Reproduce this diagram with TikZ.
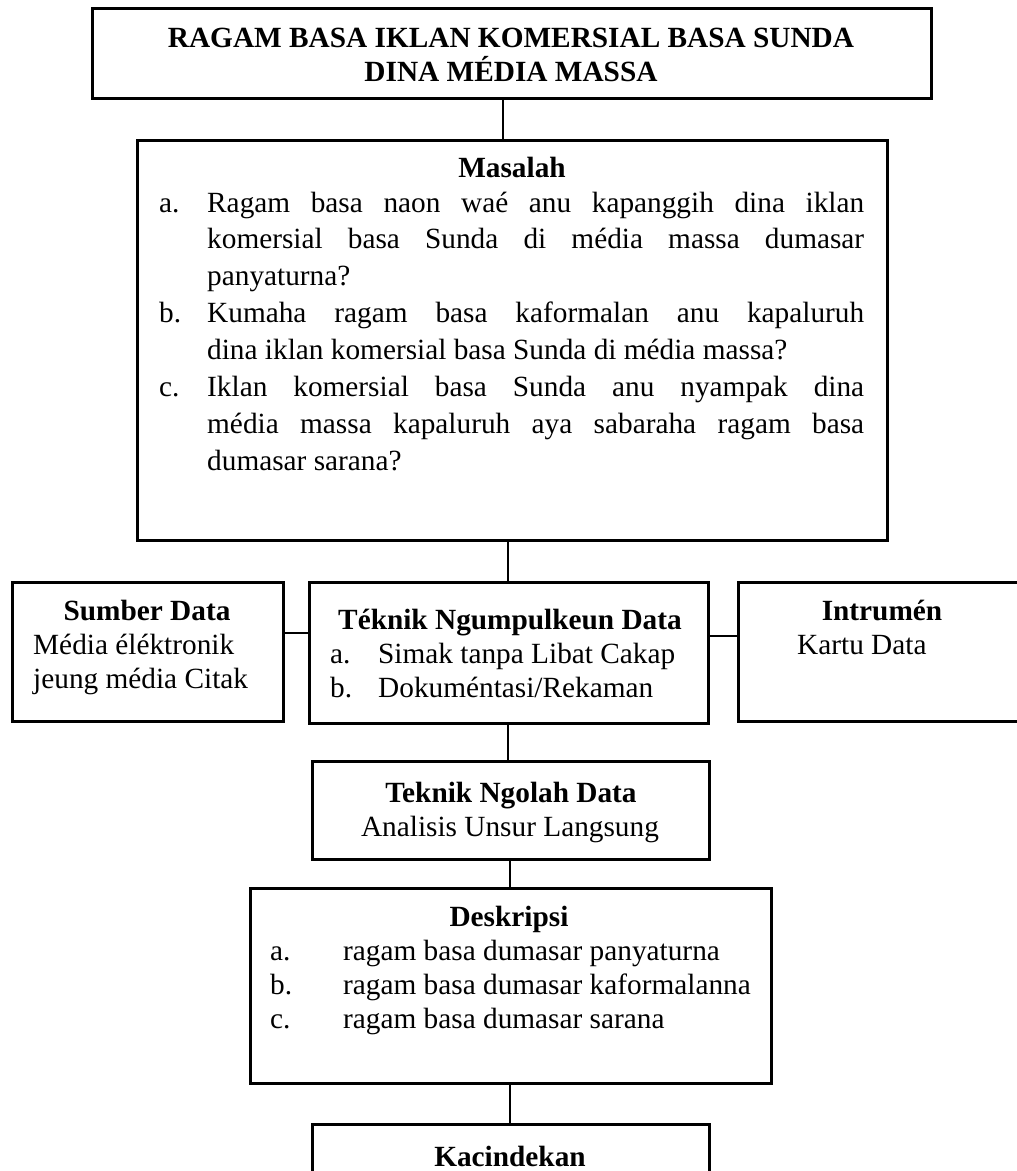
\documentclass[tikz,border=0pt]{standalone}
\usepackage{fontspec}
\setmainfont{Liberation Serif}
\newcommand\myfs{\fontsize{29.3pt}{34pt}\selectfont}
\begin{document}
\begin{tikzpicture}[x=1pt,y=-1pt,
  box/.style={draw, line width=3pt, inner sep=0pt, outer sep=0pt, anchor=north west},
  link/.style={line width=1.3pt},
  hd/.style={inner sep=0pt, anchor=base, font=\myfs\bfseries},
  tx/.style={inner sep=0pt, anchor=base west, font=\myfs},
  jl/.style={inner sep=0pt, anchor=base west, font=\myfs}]
\useasboundingbox (0,0) rectangle (1017,1171);

% boxes
\node[box, minimum width=839pt, minimum height=90pt] (title) at (92,8) {};
\node[box, minimum width=750pt, minimum height=400pt] (mas) at (137,140) {};
\node[box, minimum width=271pt, minimum height=139pt] (sum) at (12,582) {};
\node[box, minimum width=399pt, minimum height=141pt] (tek) at (309,582) {};
\node[box, minimum width=292pt, minimum height=139pt] (ins) at (738,582) {};
\node[box, minimum width=397pt, minimum height=98pt] (ola) at (312,761) {};
\node[box, minimum width=521pt, minimum height=195pt] (des) at (250,888) {};
\node[box, minimum width=397pt, minimum height=90pt] (kac) at (312,1124) {};

% title
\node[hd] (t1) at (511,47) {RAGAM BASA IKLAN KOMERSIAL BASA SUNDA};
\node[hd] (t2) at (511,81) {DINA MÉDIA MASSA};

% masalah
\node[hd] (mh) at (512,177) {Masalah};
\node[tx] (ma) at (159,212) {a.};
\node[jl] (m1) at (207,212) {\makebox[657pt][s]{Ragam basa naon waé anu kapanggih dina iklan}};
\node[jl] (m2) at (207,248.9) {\makebox[657pt][s]{komersial basa Sunda di média massa dumasar}};
\node[tx] (m3) at (207,285.8) {panyaturna?};
\node[tx] (mb) at (159,322.7) {b.};
\node[jl] (m4) at (207,322.7) {\makebox[657pt][s]{Kumaha ragam basa kaformalan anu kapaluruh}};
\node[tx] (m5) at (207,359.6) {dina iklan komersial basa Sunda di média massa?};
\node[tx] (mc) at (159,396.5) {c.};
\node[jl] (m6) at (207,396.5) {\makebox[657pt][s]{Iklan komersial basa Sunda anu nyampak dina}};
\node[jl] (m7) at (207,433.4) {\makebox[657pt][s]{média massa kapaluruh aya sabaraha ragam basa}};
\node[tx] (m8) at (207,470.3) {dumasar sarana?};

% sumber data
\node[hd] (sh) at (147,620) {Sumber Data};
\node[tx] (s1) at (33,654) {Média éléktronik};
\node[tx] (s2) at (33,688) {jeung média Citak};

% teknik ngumpulkeun
\node[hd] (kh) at (510,629) {Téknik Ngumpulkeun Data};
\node[tx] (ka) at (330,663) {a.};
\node[tx] (k1) at (378,663) {Simak tanpa Libat Cakap};
\node[tx] (kb) at (330,697) {b.};
\node[tx] (k2) at (378,697) {Dokuméntasi/Rekaman};

% intrumen
\node[hd] (ih) at (882,620) {Intrumén};
\node[tx] (i1) at (797,654) {Kartu Data};

% teknik ngolah
\node[hd] (oh) at (511,802) {Teknik Ngolah Data};
\node[hd, font=\myfs] (o1) at (510,836) {Analisis Unsur Langsung};

% deskripsi
\node[hd] (dh) at (509,926) {Deskripsi};
\node[tx] (da) at (270,960) {a.};
\node[tx] (d1) at (343,960) {ragam basa dumasar panyaturna};
\node[tx] (db) at (270,994) {b.};
\node[tx] (d2) at (343,994) {ragam basa dumasar kaformalanna};
\node[tx] (dc) at (270,1028) {c.};
\node[tx] (d3) at (343,1028) {ragam basa dumasar sarana};

% kacindekan
\node[hd] (ch) at (510,1166) {Kacindekan};

% connectors
\coordinate (x1) at (503,0);
\coordinate (x2) at (508,0);
\coordinate (x3) at (510,0);
\coordinate (y1) at (0,633);
\coordinate (y2) at (0,636);
\draw[link] (title.south -| x1) -- (mas.north -| x1);
\draw[link] (mas.south -| x2) -- (tek.north -| x2);
\draw[link] (sum.east |- y1) -- (tek.west |- y1);
\draw[link] (tek.east |- y2) -- (ins.west |- y2);
\draw[link] (tek.south -| x2) -- (ola.north -| x2);
\draw[link] (ola.south -| x3) -- (des.north -| x3);
\draw[link] (des.south -| x3) -- (kac.north -| x3);
\end{tikzpicture}
\end{document}
